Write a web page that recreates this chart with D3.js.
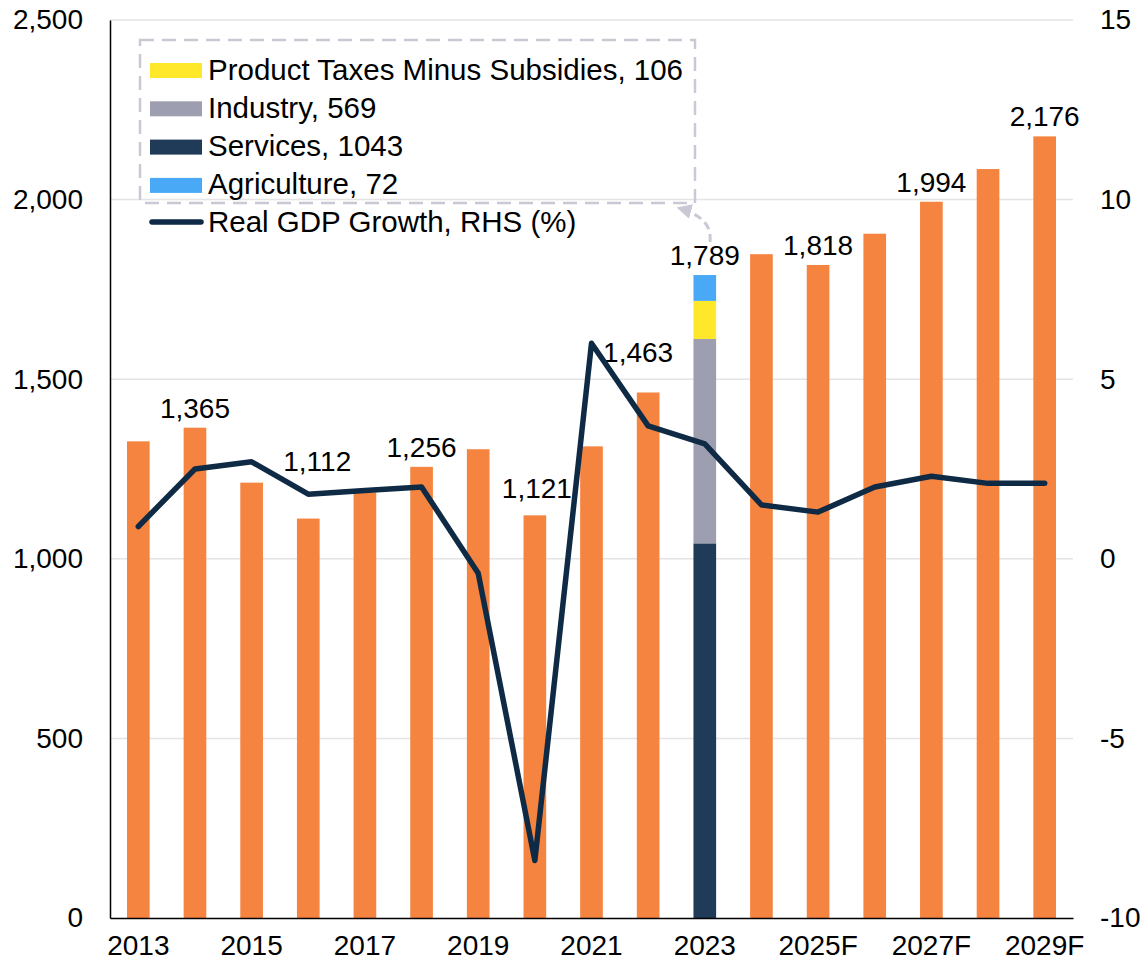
<!DOCTYPE html>
<html>
<head>
<meta charset="utf-8">
<script src="https://cdn.jsdelivr.net/npm/d3@7"></script>
<style>
  body { margin: 0; background: #fff; }
  svg text { font-family: "Liberation Sans", Arial, sans-serif; fill: #000; }
</style>
</head>
<body>
<script>
// dati
const years = ["2013", "2014", "2015", "2016", "2017", "2018", "2019", "2020", "2021",
  "2022", "2023", "2024", "2025F", "2026F", "2027F", "2028F", "2029F"];
const gdp = [1327, 1365, 1212, 1112, 1185, 1256, 1305, 1121, 1313,
  1463, 1789, 1848, 1818, 1905, 1994, 2085, 2176];
const growth = [0.9, 2.5, 2.7, 1.8, 1.9, 2.0, -0.4, -8.4, 6.0,
  3.7, 3.2, 1.5, 1.3, 2.0, 2.3, 2.1, 2.1];
const labelledYears = ["2014", "2016", "2018", "2020", "2022", "2023", "2025F", "2027F", "2029F"];

// composizione 2023, dal basso verso l'alto
const sectorYear = "2023";
const sectors = ["Services", "Industry", "Product Taxes Minus Subsidies", "Agriculture"];
const sectorValues = [1043, 569, 106, 72];
const sectorColors = ["#1f3b58", "#9d9eb0", "#ffe72a", "#4aa9f6"];
const legendOrder = ["Product Taxes Minus Subsidies", "Industry", "Services", "Agriculture"];

const leftTicks = [0, 500, 1000, 1500, 2000, 2500];
const rightTicks = [-10, -5, 0, 5, 10, 15];

const orange = "#f4843f";
const navyLine = "#0f2a45";

const W = 1147, H = 967;
const m = { left: 110, right: 1073, top: 20, bottom: 918 };

const svg = d3.select("body").append("svg")
  .attr("width", W)
  .attr("height", H);

const x = d3.scaleBand()
  .domain(years)
  .range([m.left, m.right])
  .paddingInner(0.6)
  .paddingOuter(0.3);

const yL = d3.scaleLinear().domain([0, 2500]).range([m.bottom, m.top]);
const yR = d3.scaleLinear().domain([-10, 15]).range([m.bottom, m.top]);

// griglia
svg.append("g")
  .selectAll("line")
  .data(leftTicks.slice(1))
  .enter()
  .append("line")
  .attr("x1", m.left)
  .attr("x2", m.right)
  .attr("y1", d => yL(d))
  .attr("y2", d => yL(d))
  .style("stroke", "#e4e4e4")
  .style("stroke-width", 1.5);

// barre
const plain = years.map((y, i) => ({ year: y, value: gdp[i] })).filter(d => d.year !== sectorYear);
svg.append("g")
  .selectAll("rect")
  .data(plain)
  .enter()
  .append("rect")
  .attr("x", d => x(d.year))
  .attr("width", x.bandwidth())
  .attr("y", d => yL(d.value))
  .attr("height", d => yL(0) - yL(d.value))
  .style("fill", orange);

const stackRow = {};
sectors.forEach((s, i) => { stackRow[s] = sectorValues[i]; });
const stacked = d3.stack().keys(sectors)([stackRow]);
svg.append("g")
  .selectAll("rect")
  .data(stacked)
  .enter()
  .append("rect")
  .attr("x", x(sectorYear))
  .attr("width", x.bandwidth())
  .attr("y", d => yL(d[0][1]))
  .attr("height", d => yL(d[0][0]) - yL(d[0][1]))
  .style("fill", (d, i) => sectorColors[i]);

// etichette dati
const nudge = { "2016": [9, -38], "2022": [-10, -20], "2020": [2, -7] };
svg.append("g")
  .selectAll("text")
  .data(labelledYears)
  .enter()
  .append("text")
  .attr("x", d => x(d) + x.bandwidth() / 2 + (nudge[d] ? nudge[d][0] : 0))
  .attr("y", d => yL(gdp[years.indexOf(d)]) - 10 + (nudge[d] ? nudge[d][1] : 0))
  .attr("text-anchor", "middle")
  .style("font-size", "28px")
  .text(d => d3.format(",")(gdp[years.indexOf(d)]));

// linea crescita
const line = d3.line()
  .x((d, i) => x(years[i]) + x.bandwidth() / 2)
  .y(d => yR(d));

svg.append("path")
  .datum(growth)
  .attr("d", line)
  .style("fill", "none")
  .style("stroke", navyLine)
  .style("stroke-width", 5.5)
  .style("stroke-linejoin", "round")
  .style("stroke-linecap", "round");

// assi
const axL = svg.append("g")
  .attr("transform", `translate(${m.left},0)`)
  .call(d3.axisLeft(yL).tickValues(leftTicks).tickSize(0).tickPadding(27).tickFormat(d3.format(",")));
axL.select(".domain").attr("stroke", "#000").attr("stroke-width", 1.5);

const axR = svg.append("g")
  .attr("transform", `translate(${m.right},0)`)
  .call(d3.axisRight(yR).tickValues(rightTicks).tickSize(0).tickPadding(27).tickFormat(d => String(d)));
axR.select(".domain").remove();

const axB = svg.append("g")
  .attr("transform", `translate(0,${m.bottom})`)
  .call(d3.axisBottom(x).tickValues(years.filter((d, i) => i % 2 === 0)).tickSize(0).tickPadding(17));
axB.select(".domain").attr("stroke", "#000").attr("stroke-width", 1.5);

svg.selectAll(".tick text").style("font-size", "28px").style("font-family", "'Liberation Sans', Arial, sans-serif");

// legenda
const legend = svg.append("g");
legend.append("rect")
  .attr("x", 140)
  .attr("y", 40)
  .attr("width", 555)
  .attr("height", 163)
  .style("fill", "none")
  .style("stroke", "#c9c9d6")
  .style("stroke-width", 2.5)
  .style("stroke-dasharray", "14,8");

legendOrder.forEach((s, i) => {
  const k = sectors.indexOf(s);
  const cy = 70.5 + i * 38.3;
  legend.append("rect")
    .attr("x", 150)
    .attr("y", cy - 7.5)
    .attr("width", 52)
    .attr("height", 15)
    .style("fill", sectorColors[k]);
  legend.append("text")
    .attr("x", 208)
    .attr("y", cy + 9)
    .style("font-size", "29.5px")
    .text(`${s}, ${sectorValues[k]}`);
});

legend.append("line")
  .attr("x1", 152)
  .attr("x2", 201)
  .attr("y1", 222)
  .attr("y2", 222)
  .style("stroke", navyLine)
  .style("stroke-width", 5.5)
  .style("stroke-linecap", "round");
legend.append("text")
  .attr("x", 208)
  .attr("y", 232)
  .style("font-size", "29.5px")
  .text("Real GDP Growth, RHS (%)");

// freccia
svg.append("defs").append("marker")
  .attr("id", "arrow")
  .attr("viewBox", "0 0 10 10")
  .attr("refX", 9)
  .attr("refY", 5)
  .attr("markerWidth", 5)
  .attr("markerHeight", 5)
  .attr("orient", "auto")
  .append("path")
  .attr("d", "M0,0 L10,5 L0,10 z")
  .style("fill", "#c9c9d6");

svg.append("path")
  .attr("d", "M710,242 C712,224 700,214 678,208")
  .style("fill", "none")
  .style("stroke", "#c9c9d6")
  .style("stroke-width", 3)
  .style("stroke-dasharray", "8,5")
  .attr("marker-end", "url(#arrow)");
</script>
</body>
</html>
